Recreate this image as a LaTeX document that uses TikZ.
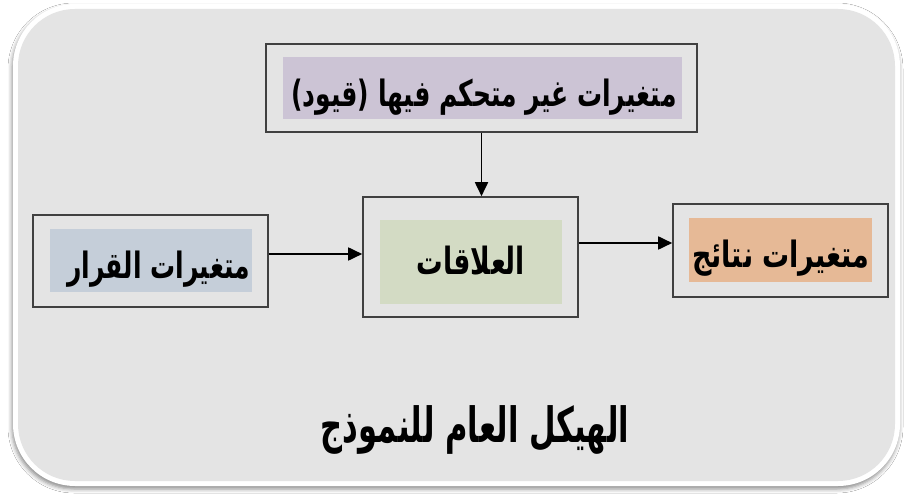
\documentclass[tikz,border=0pt]{standalone}
\usepackage{fontspec}
\usepackage{graphicx}
\usetikzlibrary{arrows.meta,shadows.blur}
\newfontfamily\arabicfont[Script=Arabic]{DejaVu Sans}
\TeXXeTstate=1
\definecolor{bggrey}{HTML}{E4E4E4}
\definecolor{boxline}{HTML}{404040}
\definecolor{cpurple}{HTML}{CCC4D5}
\definecolor{cblue}{HTML}{C5CED9}
\definecolor{cgreen}{HTML}{D3DBC4}
\definecolor{corange}{HTML}{E6B996}
\newcommand\artall[1]{\scalebox{1}[1.45]{#1}}
\tikzset{
  outerbox/.style={draw=boxline, line width=1.6pt, fill=bggrey, inner sep=0pt},
  innerbox/.style={fill=#1, draw=none, inner sep=0pt},
  lbl/.style={font=\arabicfont\bfseries\fontsize{25}{28}\selectfont, inner sep=0pt, text=black, anchor=base},
  conn/.style={draw=black, line width=1.8pt, -{Triangle[length=14pt,width=13pt]}}
}
\begin{document}
\begin{tikzpicture}[x=1pt,y=-1pt]
\useasboundingbox (0,0) rectangle (908,494);
\fill[white] (0,0) rectangle (908,494);
\path[fill=white, rounded corners=62pt, blur shadow={shadow xshift=-1pt, shadow yshift=-3pt, shadow blur radius=4pt, shadow opacity=45}] (13,4) rectangle (900,486);
\fill[bggrey, rounded corners=57pt] (18,9) rectangle (895,481);

% boxes
\node[outerbox, minimum width=431pt, minimum height=88pt] (top) at (481.5,88) {};
\node[innerbox=cpurple, minimum width=399pt, minimum height=62pt] (topin) at (482.5,88) {};
\node[outerbox, minimum width=235pt, minimum height=92pt] (left) at (150.5,261) {};
\node[innerbox=cblue, minimum width=202pt, minimum height=63pt] (leftin) at (151,260.5) {};
\node[outerbox, minimum width=215pt, minimum height=120pt] (mid) at (470.5,257) {};
\node[innerbox=cgreen, minimum width=182pt, minimum height=84pt] (midin) at (471,262) {};
\node[outerbox, minimum width=215pt, minimum height=93pt] (right) at (780.5,250.5) {};
\node[innerbox=corange, minimum width=183pt, minimum height=64pt] (rightin) at (780.5,250) {};

% texts
\node[lbl] (toptxt) at (484,107) {\artall{(قيود) \beginR متغيرات غير متحكم فيها\endR}};
\node[lbl, anchor=base east] (lefttxt) at (250,279) {\artall{\beginR متغيرات القرار\endR}};
\node[lbl] (midtxt) at (471,275) {\scalebox{1.06}[1.5]{العلاقات}};
\node[lbl] (righttxt) at (781,268) {\scalebox{1.08}[1.45]{\beginR متغيرات نتائج\endR}};
\node[font=\arabicfont\bfseries\fontsize{36}{40}\selectfont, inner sep=0pt, anchor=base] (title) at (475,442) {\scalebox{0.85}[1.35]{\beginR الهيكل العام للنموذج\endR}};

% connectors
\coordinate (ya) at (0,254);
\coordinate (yb) at (0,243);
\draw[conn] (top.south) -- (top.south |- mid.north);
\draw[conn] (left.east |- ya) -- (mid.west |- ya);
\draw[conn] (mid.east |- yb) -- (right.west |- yb);
\end{tikzpicture}
\end{document}
